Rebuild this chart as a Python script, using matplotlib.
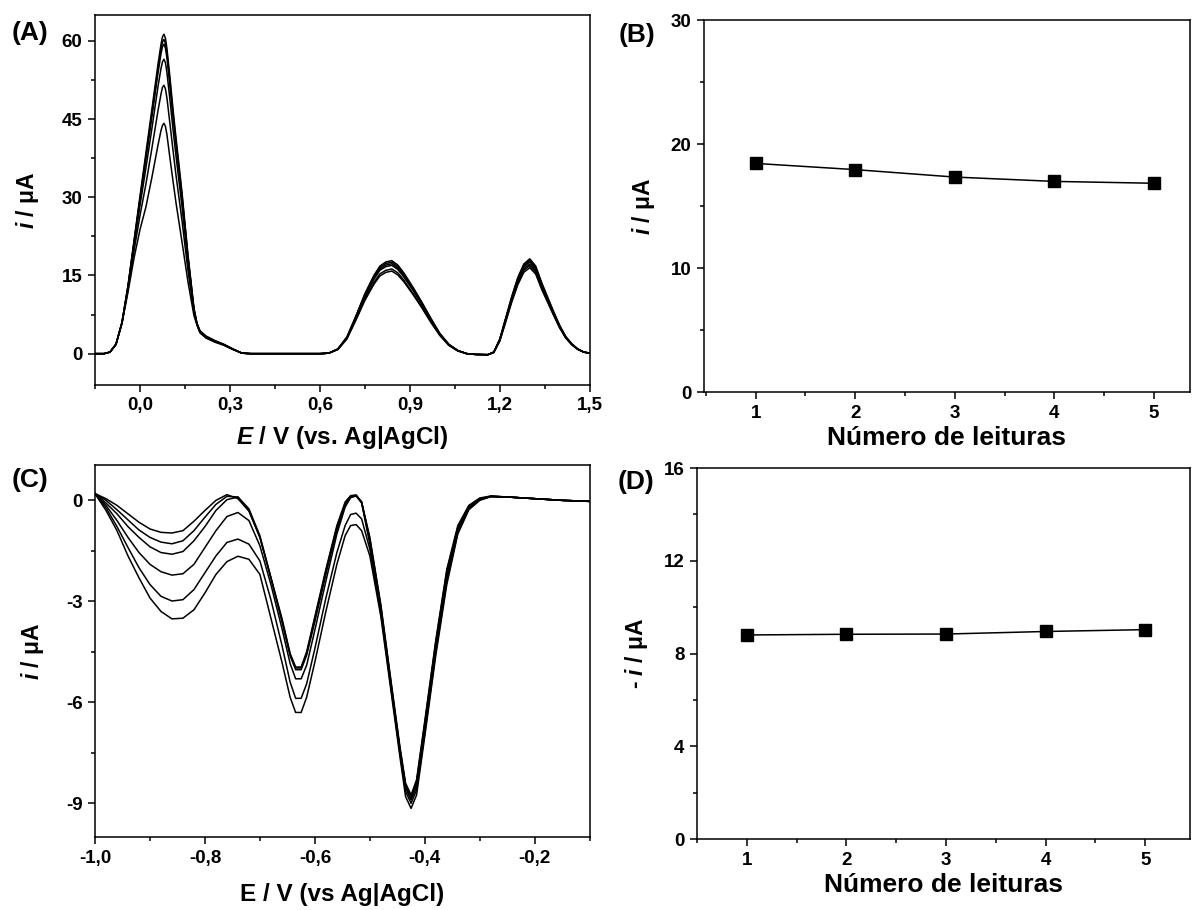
import matplotlib
matplotlib.use('Agg')
import matplotlib.pyplot as plt
from matplotlib.ticker import MultipleLocator, FuncFormatter

plt.rcParams['font.family'] = ['Liberation Sans', 'DejaVu Sans']
plt.rcParams['font.weight'] = 'bold'
plt.rcParams['mathtext.fontset'] = 'custom'
plt.rcParams['mathtext.it'] = 'Liberation Sans:italic:bold'
plt.rcParams['mathtext.rm'] = 'Liberation Sans:bold'

# ---- panel A: anodic voltammograms (6 readings) ----
E_A = [-0.15, -0.12, -0.10, -0.08, -0.06, -0.04, -0.02, 0.00, 0.02, 0.04, 0.06, 0.07, 0.075, 0.08,
       0.085, 0.09, 0.10, 0.11, 0.12, 0.14, 0.16, 0.18, 0.19, 0.20, 0.22, 0.25, 0.28, 0.31, 0.34, 0.37,
       0.50, 0.60,
       0.63, 0.66, 0.69, 0.72, 0.75, 0.78, 0.80, 0.82, 0.84, 0.86, 0.88, 0.91, 0.94, 0.97, 1.00, 1.03,
       1.06, 1.09, 1.12,
       1.16, 1.18, 1.20, 1.22, 1.24, 1.26, 1.28, 1.30, 1.32, 1.34, 1.36, 1.38, 1.40, 1.42, 1.44, 1.46,
       1.48, 1.50]

i_A1 = [0, 0, 0.3, 1.8, 6.0, 13.0, 21.6, 30.2, 38.6, 47.0, 55.5, 59.3, 60.8, 61.3, 60.5, 58.5, 53.0,
        47.0, 41.5, 31.0, 19.0, 8.7, 5.8, 4.4, 3.4, 2.5, 1.8, 0.9, 0.1, 0, 0, 0,
        0.1, 0.9, 3.2, 7.2, 11.5, 15.0, 16.8, 17.6, 17.85, 17.0, 15.5, 12.8, 9.9, 6.8, 3.9, 1.8, 0.6,
        0.0, -0.15,
        -0.2, 0.3, 2.8, 6.9, 11.0, 14.6, 17.2, 18.2, 16.8, 13.6, 10.8, 8.0, 5.4, 3.3, 1.9, 0.9, 0.3, 0.1]
i_A2 = [0, 0, 0.3, 1.8, 6.0, 12.9, 21.4, 29.8, 38.0, 46.3, 54.6, 58.4, 59.8, 60.3, 59.5, 57.6, 52.1,
        46.2, 40.8, 30.5, 18.7, 8.6, 5.8, 4.3, 3.3, 2.45, 1.75, 0.9, 0.1, 0, 0, 0,
        0.1, 0.9, 3.1, 7.1, 11.3, 14.7, 16.5, 17.3, 17.55, 16.7, 15.2, 12.6, 9.7, 6.7, 3.8, 1.8, 0.6,
        0.0, -0.15,
        -0.2, 0.3, 2.75, 6.8, 10.8, 14.4, 16.9, 17.9, 16.5, 13.4, 10.6, 7.9, 5.3, 3.2, 1.9, 0.9, 0.3, 0.1]
i_A3 = [0, 0, 0.3, 1.8, 6.0, 12.9, 21.2, 29.5, 37.4, 45.5, 53.8, 57.5, 58.9, 59.4, 58.6, 56.7, 51.3,
        45.5, 40.1, 29.9, 18.4, 8.5, 5.8, 4.25, 3.25, 2.4, 1.7, 0.85, 0.1, 0, 0, 0,
        0.1, 0.9, 3.1, 7.0, 11.1, 14.5, 16.2, 17.0, 17.25, 16.4, 15.0, 12.4, 9.6, 6.6, 3.8, 1.7, 0.6,
        0.0, -0.15,
        -0.2, 0.3, 2.7, 6.7, 10.6, 14.1, 16.6, 17.6, 16.25, 13.15, 10.4, 7.75, 5.2, 3.2, 1.8, 0.9, 0.3, 0.1]
i_A4 = [0, 0, 0.3, 1.8, 5.9, 12.7, 20.7, 28.4, 35.7, 43.3, 51.2, 54.7, 56.0, 56.5, 55.8, 53.9, 48.7,
        43.1, 38.0, 28.3, 17.5, 8.3, 5.7, 4.2, 3.2, 2.35, 1.7, 0.85, 0.1, 0, 0, 0,
        0.1, 0.85, 3.0, 6.8, 10.9, 14.25, 16.0, 16.7, 16.95, 16.15, 14.7, 12.2, 9.4, 6.5, 3.7, 1.7, 0.6,
        0.0, -0.15,
        -0.2, 0.25, 2.6, 6.5, 10.4, 13.8, 16.25, 17.2, 15.9, 12.85, 10.2, 7.55, 5.1, 3.1, 1.8, 0.85, 0.3, 0.1]
i_A5 = [0, 0, 0.3, 1.8, 5.9, 12.3, 19.7, 26.5, 32.6, 39.5, 46.6, 49.8, 51.1, 51.5, 50.8, 49.0, 44.1,
        39.1, 34.3, 25.6, 16.0, 7.9, 5.6, 4.1, 3.1, 2.3, 1.65, 0.8, 0.1, 0, 0, 0,
        0.1, 0.8, 2.9, 6.6, 10.5, 13.65, 15.3, 16.0, 16.25, 15.5, 14.1, 11.6, 9.0, 6.2, 3.55, 1.6, 0.55,
        0.0, -0.15,
        -0.2, 0.25, 2.5, 6.3, 10.2, 13.6, 16.0, 16.9, 15.6, 12.6, 10.0, 7.4, 5.0, 3.05, 1.75, 0.85, 0.3, 0.1]
i_A6 = [0, 0, 0.3, 1.8, 5.8, 11.8, 18.3, 23.8, 28.2, 33.9, 40.0, 42.8, 43.8, 44.2, 43.6, 42.0, 37.5,
        33.2, 29.0, 21.5, 13.8, 7.3, 5.5, 4.0, 3.0, 2.2, 1.6, 0.8, 0.1, 0, 0, 0,
        0.1, 0.8, 2.8, 6.4, 10.2, 13.3, 14.9, 15.6, 15.85, 15.1, 13.8, 11.4, 8.8, 6.0, 3.5, 1.6, 0.5,
        0.0, -0.15,
        -0.2, 0.2, 2.4, 6.1, 9.9, 13.2, 15.6, 16.5, 15.25, 12.3, 9.8, 7.3, 4.9, 3.0, 1.7, 0.8, 0.3, 0.1]
curves_A = [i_A1, i_A2, i_A3, i_A4, i_A5, i_A6]

# ---- panel C: cathodic voltammograms (6 readings) ----
E_C = [-1.00, -0.98, -0.96, -0.94, -0.92, -0.90, -0.88, -0.86, -0.84, -0.82, -0.80, -0.78, -0.76,
       -0.74, -0.72, -0.70,
       -0.68, -0.66, -0.645, -0.635, -0.625, -0.615, -0.60, -0.58, -0.56, -0.545, -0.535, -0.525, -0.515,
       -0.50, -0.48, -0.46, -0.445, -0.435, -0.425, -0.415, -0.40, -0.38, -0.36, -0.34, -0.32, -0.30,
       -0.28, -0.25, -0.20, -0.15, -0.10]

i_C1 = [0.2, 0.05, -0.15, -0.40, -0.65, -0.85, -0.95, -0.97, -0.90, -0.62, -0.30, 0.0, 0.17, 0.05, -0.32, -1.1,
        -2.3, -3.5, -4.55, -4.95, -4.95, -4.5, -3.45, -2.05, -0.75, -0.05, 0.14, 0.16, -0.05,
        -1.1, -3.1, -5.55, -7.35, -8.4, -8.75, -8.3, -6.55, -4.15, -2.05, -0.75, -0.15, 0.07, 0.13, 0.10,
        0.05, 0.0, -0.03]
i_C2 = [0.2, 0.0, -0.28, -0.58, -0.88, -1.10, -1.24, -1.29, -1.20, -0.90, -0.50, -0.12, 0.12, 0.10, -0.30, -1.1,
        -2.3, -3.55, -4.58, -4.98, -4.98, -4.55, -3.5, -2.1, -0.8, -0.1, 0.12, 0.15, -0.05,
        -1.15, -3.15, -5.6, -7.4, -8.45, -8.8, -8.35, -6.6, -4.2, -2.1, -0.8, -0.18, 0.05, 0.12, 0.10,
        0.05, 0.0, -0.03]
i_C3 = [0.2, -0.08, -0.40, -0.78, -1.10, -1.38, -1.55, -1.60, -1.52, -1.20, -0.78, -0.30, 0.02, 0.10, -0.25, -1.05,
        -2.3, -3.6, -4.62, -5.03, -5.03, -4.6, -3.6, -2.2, -0.88, -0.15, 0.1, 0.14, -0.05,
        -1.2, -3.2, -5.65, -7.45, -8.5, -8.85, -8.42, -6.7, -4.3, -2.2, -0.85, -0.2, 0.04, 0.12, 0.10,
        0.05, 0.0, -0.03]
i_C4 = [0.2, -0.15, -0.60, -1.10, -1.55, -1.90, -2.12, -2.22, -2.18, -1.90, -1.40, -0.90, -0.48, -0.36, -0.60, -1.35,
        -2.5, -3.8, -4.85, -5.3, -5.3, -4.9, -3.85, -2.4, -1.0, -0.2, 0.08, 0.13, -0.08,
        -1.3, -3.3, -5.7, -7.5, -8.55, -8.9, -8.5, -6.8, -4.4, -2.3, -0.9, -0.22, 0.03, 0.12, 0.10,
        0.05, 0.0, -0.03]
i_C5 = [0.2, -0.22, -0.78, -1.40, -2.00, -2.50, -2.85, -2.99, -2.95, -2.65, -2.15, -1.65, -1.25, -1.15, -1.30, -1.80,
        -2.95, -4.3, -5.4, -5.88, -5.88, -5.45, -4.4, -2.9, -1.55, -0.75, -0.42, -0.38, -0.55,
        -1.45, -3.35, -5.75, -7.55, -8.65, -9.0, -8.6, -6.9, -4.5, -2.4, -0.95, -0.25, 0.02, 0.11, 0.10,
        0.05, 0.0, -0.03]
i_C6 = [0.2, -0.30, -0.90, -1.65, -2.30, -2.90, -3.30, -3.52, -3.50, -3.25, -2.75, -2.20, -1.82, -1.66, -1.75, -2.20,
        -3.5, -4.8, -5.85, -6.3, -6.3, -5.85, -4.8, -3.3, -1.9, -1.05, -0.75, -0.72, -0.9,
        -1.65, -3.45, -5.85, -7.65, -8.8, -9.15, -8.75, -7.0, -4.6, -2.5, -1.0, -0.28, 0.0, 0.11, 0.10,
        0.05, 0.0, -0.03]
curves_C = [i_C1, i_C2, i_C3, i_C4, i_C5, i_C6]

# ---- panels B and D: peak current vs reading number ----
leituras = [1, 2, 3, 4, 5]
i_B = [18.45, 17.95, 17.35, 17.0, 16.85]
i_D = [8.80, 8.83, 8.84, 8.95, 9.03]

comma = FuncFormatter(lambda v, p: f'{v:.1f}'.replace('.', ','))
comma_int = FuncFormatter(lambda v, p: f'{v:g}')

fig = plt.figure(figsize=(11.95, 9.10), dpi=100)
axA = fig.add_axes([0.0795, 0.577, 0.414, 0.4066])
axB = fig.add_axes([0.589, 0.569, 0.4067, 0.4088])
axC = fig.add_axes([0.0795, 0.0802, 0.414, 0.4088])
axD = fig.add_axes([0.5833, 0.078, 0.4126, 0.4077])


def style(ax):
    for s in ax.spines.values():
        s.set_linewidth(1.1)
    ax.tick_params(which='both', direction='out', top=False, right=False, width=1.1,
                   labelsize=13.5, pad=4)
    ax.tick_params(which='major', length=5)
    ax.tick_params(which='minor', length=3)
    for lab in ax.get_xticklabels() + ax.get_yticklabels():
        lab.set_fontweight('bold')


for c in curves_A:
    axA.plot(E_A, c, color='black', lw=1.1)
axA.set_xlim(-0.15, 1.5)
axA.set_ylim(-6, 65)
axA.xaxis.set_major_locator(MultipleLocator(0.3))
axA.xaxis.set_minor_locator(MultipleLocator(0.15))
axA.yaxis.set_major_locator(MultipleLocator(15))
axA.yaxis.set_minor_locator(MultipleLocator(7.5))
axA.xaxis.set_major_formatter(comma)
axA.set_xlabel(r'$E$ / V (vs. Ag|AgCl)', fontsize=17.5, fontweight='bold', labelpad=7)
axA.set_ylabel(r'$i$ / μA', fontsize=16.5, fontweight='bold', labelpad=15)
style(axA)

axB.plot(leituras, i_B, color='black', lw=1.1, marker='s', markersize=8)
axB.set_xlim(0.48, 5.36)
axB.set_ylim(0, 30)
axB.xaxis.set_major_locator(MultipleLocator(1))
axB.xaxis.set_minor_locator(MultipleLocator(0.5))
axB.yaxis.set_major_locator(MultipleLocator(10))
axB.yaxis.set_minor_locator(MultipleLocator(5))
axB.set_xlabel('Número de leituras', fontsize=19, fontweight='bold', labelpad=3)
axB.set_ylabel(r'$i$ / μA', fontsize=16.5, fontweight='bold', labelpad=10)
style(axB)

for c in curves_C:
    axC.plot(E_C, c, color='black', lw=1.1)
axC.set_xlim(-1.0, -0.1)
axC.set_ylim(-10, 1.05)
axC.xaxis.set_major_locator(MultipleLocator(0.2))
axC.xaxis.set_minor_locator(MultipleLocator(0.1))
axC.yaxis.set_major_locator(MultipleLocator(3))
axC.yaxis.set_minor_locator(MultipleLocator(1.5))
axC.xaxis.set_major_formatter(comma)
axC.yaxis.set_major_formatter(comma_int)
axC.set_xlabel('E / V (vs Ag|AgCl)', fontsize=17.5, fontweight='bold', labelpad=12)
axC.set_ylabel(r'$i$ / μA', fontsize=16.5, fontweight='bold', labelpad=14)
style(axC)

axD.plot(leituras, i_D, color='black', lw=1.1, marker='s', markersize=8)
axD.set_xlim(0.5, 5.45)
axD.set_ylim(0, 16)
axD.xaxis.set_major_locator(MultipleLocator(1))
axD.xaxis.set_minor_locator(MultipleLocator(0.5))
axD.yaxis.set_major_locator(MultipleLocator(4))
axD.yaxis.set_minor_locator(MultipleLocator(2))
axD.set_xlabel('Número de leituras', fontsize=19, fontweight='bold', labelpad=3)
axD.set_ylabel(r'- $i$ / μA', fontsize=16.5, fontweight='bold', labelpad=10)
style(axD)

for lbl, x, y in [('(A)', 0.010, 0.964), ('(B)', 0.518, 0.962), ('(C)', 0.010, 0.472), ('(D)', 0.517, 0.470)]:
    fig.text(x, y, lbl, fontsize=19, fontweight='bold', ha='left', va='center')

fig.savefig('out.png', dpi=100)
